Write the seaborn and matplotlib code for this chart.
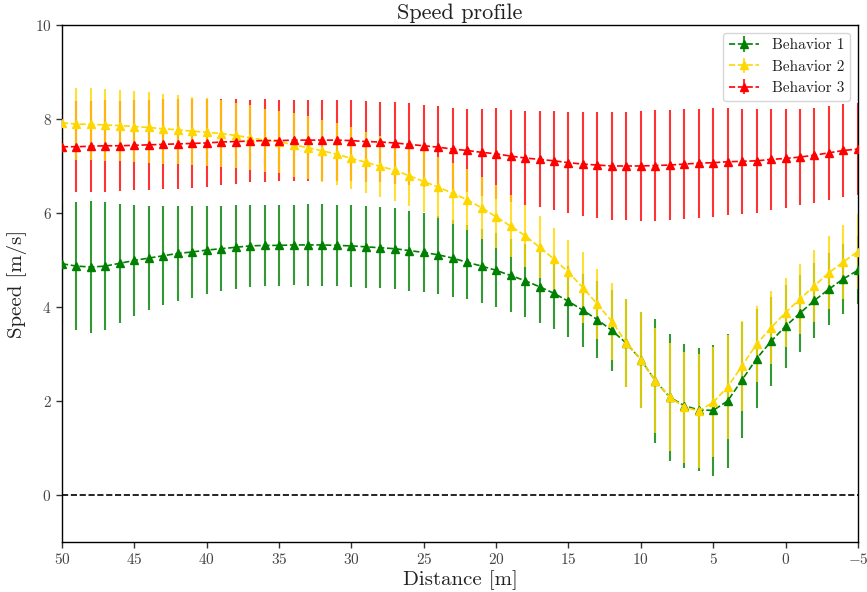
import matplotlib
matplotlib.use("Agg")
import matplotlib.pyplot as plt
import seaborn as sns
from matplotlib.colors import to_rgba

# Distance to the reference point [m], from 50 m down to -5 m
distance = [50, 49, 48, 47, 46, 45, 44, 43, 42, 41, 40, 39, 38, 37, 36, 35, 34, 33, 32, 31,
            30, 29, 28, 27, 26, 25, 24, 23, 22, 21, 20, 19, 18, 17, 16, 15, 14, 13, 12, 11,
            10, 9, 8, 7, 6, 5, 4, 3, 2, 1, 0, -1, -2, -3, -4, -5]

# Mean speed [m/s] per behavior
speed_b1 = [4.92, 4.87, 4.85, 4.87, 4.93, 4.99, 5.04, 5.09, 5.14, 5.17, 5.21, 5.24, 5.27, 5.30,
            5.31, 5.31, 5.32, 5.32, 5.32, 5.31, 5.30, 5.28, 5.26, 5.24, 5.20, 5.16, 5.11, 5.04,
            4.95, 4.87, 4.78, 4.67, 4.56, 4.43, 4.29, 4.12, 3.93, 3.73, 3.50, 3.23, 2.88, 2.43,
            2.08, 1.90, 1.81, 1.80, 2.00, 2.45, 2.90, 3.27, 3.59, 3.87, 4.14, 4.38, 4.60, 4.78]
speed_b2 = [7.92, 7.89, 7.89, 7.87, 7.86, 7.84, 7.82, 7.79, 7.77, 7.74, 7.72, 7.69, 7.65, 7.60,
            7.55, 7.52, 7.45, 7.39, 7.32, 7.25, 7.16, 7.08, 6.99, 6.91, 6.79, 6.67, 6.55, 6.42,
            6.28, 6.11, 5.92, 5.72, 5.52, 5.27, 5.02, 4.74, 4.41, 4.06, 3.69, 3.24, 2.88, 2.43,
            2.08, 1.87, 1.79, 1.97, 2.30, 2.75, 3.21, 3.56, 3.88, 4.17, 4.45, 4.73, 4.96, 5.18]
speed_b3 = [7.41, 7.41, 7.42, 7.43, 7.43, 7.44, 7.45, 7.46, 7.47, 7.48, 7.49, 7.51, 7.52, 7.53,
            7.54, 7.54, 7.55, 7.55, 7.55, 7.55, 7.54, 7.52, 7.51, 7.49, 7.46, 7.43, 7.40, 7.36,
            7.33, 7.29, 7.26, 7.21, 7.17, 7.14, 7.11, 7.07, 7.04, 7.02, 7.00, 7.00, 7.00, 7.01,
            7.02, 7.04, 7.06, 7.07, 7.09, 7.10, 7.11, 7.14, 7.16, 7.19, 7.23, 7.28, 7.33, 7.36]

# Standard deviation of speed [m/s] per behavior
std_b1 = [1.30, 1.37, 1.40, 1.37, 1.27, 1.19, 1.11, 1.05, 1.01, 0.97, 0.94, 0.91, 0.89, 0.87,
          0.86, 0.86, 0.86, 0.87, 0.87, 0.87, 0.88, 0.87, 0.86, 0.86, 0.85, 0.84, 0.83, 0.82,
          0.79, 0.79, 0.79, 0.78, 0.78, 0.78, 0.76, 0.76, 0.78, 0.82, 0.87, 0.93, 1.02, 1.32,
          1.35, 1.32, 1.31, 1.39, 1.42, 1.24, 1.06, 0.95, 0.88, 0.82, 0.79, 0.76, 0.75, 0.72]
std_b2 = [0.78, 0.77, 0.76, 0.77, 0.76, 0.75, 0.75, 0.74, 0.73, 0.72, 0.72, 0.71, 0.70, 0.69,
          0.67, 0.66, 0.68, 0.67, 0.66, 0.66, 0.66, 0.65, 0.65, 0.65, 0.65, 0.65, 0.65, 0.65,
          0.65, 0.66, 0.67, 0.66, 0.66, 0.66, 0.67, 0.69, 0.75, 0.75, 0.81, 0.94, 1.02, 1.12,
          1.15, 1.18, 1.22, 1.17, 1.10, 0.96, 0.81, 0.77, 0.73, 0.74, 0.76, 0.78, 0.79, 0.80]
std_b3 = [0.97, 0.97, 0.97, 0.98, 0.96, 0.96, 0.96, 0.96, 0.95, 0.94, 0.93, 0.92, 0.90, 0.88,
          0.88, 0.87, 0.86, 0.86, 0.86, 0.86, 0.86, 0.86, 0.86, 0.87, 0.87, 0.87, 0.88, 0.88,
          0.89, 0.93, 0.97, 0.98, 0.99, 1.02, 1.05, 1.08, 1.10, 1.12, 1.14, 1.15, 1.17, 1.18,
          1.18, 1.17, 1.16, 1.16, 1.14, 1.12, 1.10, 1.08, 1.06, 1.03, 1.01, 1.00, 0.98, 0.97]

labels = ["Behavior 1", "Behavior 2", "Behavior 3"]
colors = ["green", "gold", "red"]
# stacking of the translucent error bars: red lowest, yellow on top
bar_zorder = [1.2, 1.4, 1.1]

sns.set_theme(style="ticks")
plt.rcParams.update({
    "font.family": ["cmr10", "DejaVu Serif"],
    "mathtext.fontset": "cm",
    "axes.formatter.use_mathtext": True,
    "axes.unicode_minus": True,
    "axes.edgecolor": "black",
    "axes.linewidth": 1.0,
    "xtick.color": "#333333",
    "ytick.color": "#333333",
    "xtick.labelcolor": "#444444",
    "ytick.labelcolor": "#444444",
    "text.color": "#222222",
    "axes.labelcolor": "#222222",
})

fig = plt.figure(figsize=(8.67, 5.92), dpi=100)
ax = fig.add_axes([0.0715, 0.0845, 0.918, 0.8733])

series = [(speed_b1, std_b1), (speed_b2, std_b2), (speed_b3, std_b3)]
for (mean, std), color, label, zb in zip(series, colors, labels, bar_zorder):
    cont = ax.errorbar(distance, mean, yerr=std, color=color, ecolor=to_rgba(color, 0.8),
                       elinewidth=1.5, linestyle="--", linewidth=1.2, marker="^",
                       markersize=5.5, capsize=0, label=label, zorder=2.5)
    for bars in cont[2]:
        bars.set_zorder(zb)

ax.axhline(0, color="black", linestyle="--", linewidth=1.2)

ax.set_xlim(50, -5)
ax.set_ylim(-1, 10)
ax.set_xticks([50, 45, 40, 35, 30, 25, 20, 15, 10, 5, 0, -5])
ax.set_yticks([0, 2, 4, 6, 8, 10])
ax.tick_params(axis="both", labelsize=11, length=4, width=1, direction="out")

ax.set_title("Speed profile", fontsize=16, pad=4)
ax.set_xlabel("Distance [m]", fontsize=15, labelpad=2)
ax.set_ylabel("Speed [m/s]", fontsize=15, labelpad=6)

ax.legend(loc="upper right", fontsize=11, frameon=True, framealpha=0.8,
          edgecolor="#cccccc", fancybox=True)

fig.savefig("out.png", dpi=100)
